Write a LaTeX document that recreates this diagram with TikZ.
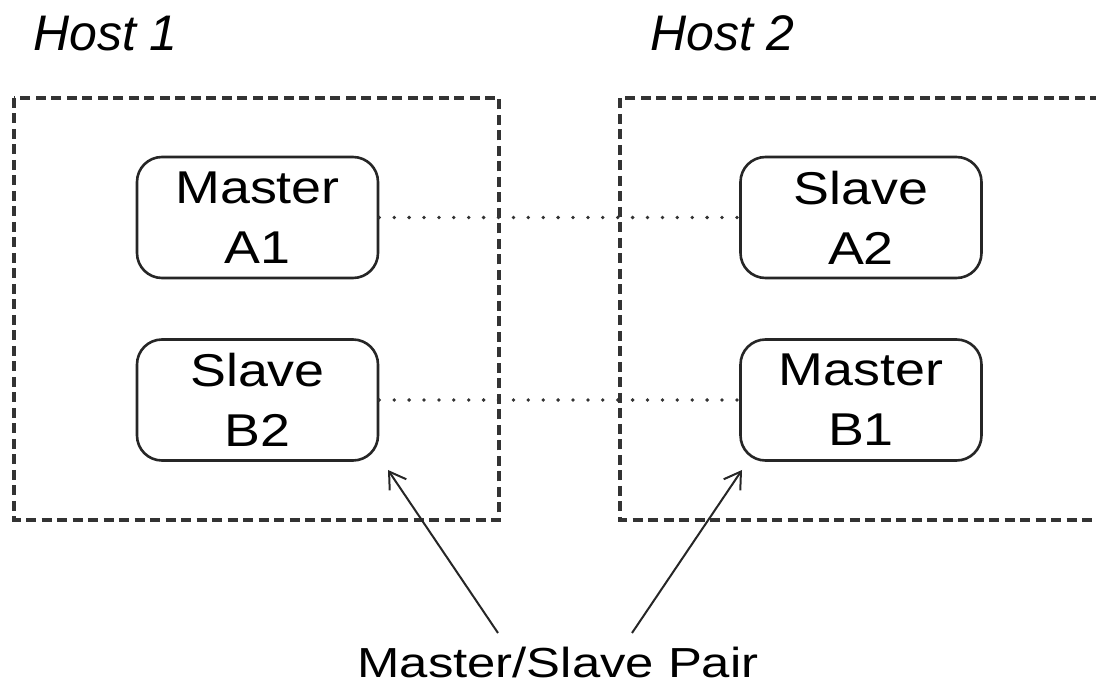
\documentclass[tikz,border=0pt]{standalone}
\usepackage{fontspec}
\setmainfont{Liberation Sans}
\newfontfamily\widefont[FakeStretch=1.17]{Liberation Sans}
\newfontfamily\widerfont[FakeStretch=1.21]{Liberation Sans}
\usetikzlibrary{arrows.meta}
\begin{document}
\begin{tikzpicture}[x=1pt,y=-1pt,
  hostbox/.style={draw=black!80,line width=3.4pt,dash pattern=on 10pt off 5.5pt},
  proc/.style={draw=black!85,line width=2.6pt,rounded corners=25pt,minimum width=241pt,minimum height=121pt,inner sep=0pt,align=center,font=\widefont\fontsize{46}{60}\selectfont},
  pairline/.style={draw=black!80,line width=3.8pt,dash pattern=on 0pt off 14.9pt,line cap=round},
  hostlabel/.style={anchor=base west,inner sep=0pt,font=\fontsize{50}{54}\selectfont\itshape},
  pointer/.style={draw=black!85,line width=2pt,-{Straight Barb[length=16pt,width=20pt,line width=2pt]}}]
\useasboundingbox (0,0) rectangle (1096,684);
\node[hostlabel] (l1) at (33,51) {Host 1};
\node[hostlabel] (l2) at (650,51) {Host 2};
\draw[hostbox] (14,98) rectangle (499,520);
\draw[hostbox] (1100,98) -- (620,98) -- (620,520) -- (1100,520);
\node[proc] (a1) at (257.5,217.5) {Master\\A1};
\node[proc] (b2) at (257.5,400) {Slave\\B2};
\node[proc] (a2) at (861,217.5) {Slave\\A2};
\node[proc] (b1) at (861,400) {Master\\B1};
\draw[pairline] (a1.east) -- (a2.west);
\draw[pairline] (b2.east) -- (b1.west);
\node[font=\widerfont\fontsize{42}{50}\selectfont,inner sep=0pt,anchor=base] (pair) at (558,677) {Master/Slave Pair};
\coordinate (t1) at (498,633);
\coordinate (t2) at (632,633);
\coordinate (p1) at (388,470);
\coordinate (p2) at (742,470);
\draw[pointer] (t1) -- (p1);
\draw[pointer] (t2) -- (p2);
\end{tikzpicture}
\end{document}
